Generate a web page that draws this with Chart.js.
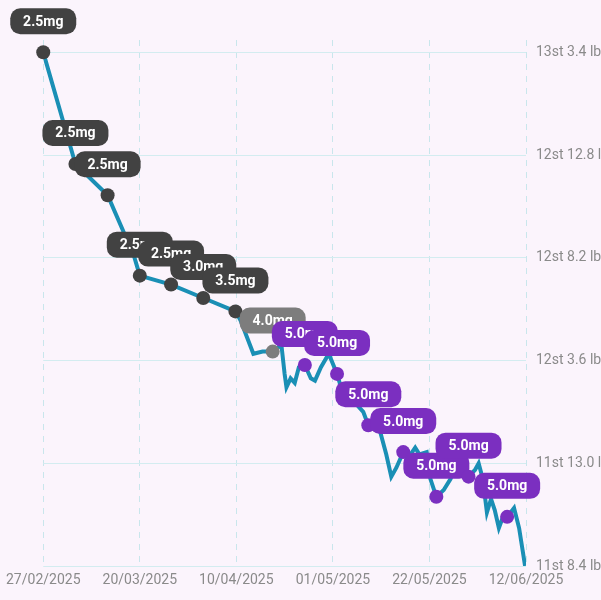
<!DOCTYPE html>
<html>
<head>
<meta charset="utf-8">
<script src="https://cdn.jsdelivr.net/npm/chart.js@4"></script>
<style>
  html, body { margin: 0; padding: 0; background: #fbf4fc; }
  #wrap { width: 601px; height: 600px; }
</style>
</head>
<body>
<div id="wrap"><canvas id="weightChart" width="601" height="600"></canvas></div>
<script>
// days since 27/02/2025, weight in lb
const weightDays = [0, 7, 14, 19.7, 21, 27.8, 34.8, 41.8, 42.9, 45.7, 47.7, 49.9, 51.8, 52.5, 52.9, 53.8, 54.7, 55.6, 56.9, 58.2, 59.1, 60.4, 62.1, 63.9, 65.2, 67.4, 69.6, 70.7, 73.3, 74.6, 75.7, 76.8, 78.3, 79.9, 80.9, 81.8, 83.4, 84.2, 85.5, 87.1, 88.6, 89.5, 90.8, 92.5, 93.9, 94.7, 95.6, 96.5, 97.4, 98.2, 99.1, 100.0, 100.9, 102.4, 103.5, 104.8];
const weightLbs = [185.4, 180.4, 179.0, 176.3, 175.4, 175.0, 174.4, 173.8, 173.4, 171.9, 172.0, 172.0, 172.3, 171.0, 170.4, 170.8, 170.6, 171.3, 171.4, 170.8, 170.7, 171.3, 171.9, 171.0, 170.1, 169.8, 169.3, 168.7, 168.4, 167.4, 166.4, 166.8, 167.5, 167.4, 167.7, 167.4, 167.5, 166.3, 165.5, 165.8, 166.3, 166.9, 166.7, 166.4, 166.7, 167.0, 166.3, 164.8, 165.4, 164.9, 164.1, 164.6, 164.6, 165.0, 164.1, 162.4];

const doseDays = [0, 7, 14, 21, 27.8, 34.8, 41.8, 49.9, 56.9, 63.9, 70.7, 78.3, 85.5, 92.5, 100.9];
const doseLbs = [185.4, 180.4, 179.0, 175.4, 175.0, 174.4, 173.8, 172.0, 171.4, 171.0, 168.7, 167.5, 165.5, 166.4, 164.6];
const doseLabels = ['2.5mg', '2.5mg', '2.5mg', '2.5mg', '2.5mg', '3.0mg', '3.5mg', '4.0mg', '5.0mg', '5.0mg', '5.0mg', '5.0mg', '5.0mg', '5.0mg', '5.0mg'];

const xTicks = [0, 21, 42, 63, 84, 105];
const yTicks = [162.4, 167.0, 171.6, 176.2, 180.8, 185.4];
const startDate = new Date(2025, 1, 27);

function doseColor(label) {
  if (label === '4.0mg') return '#7d7d7d';
  if (label === '5.0mg') return '#7b2fc0';
  return '#424242';
}

function fmtDate(d) {
  const dt = new Date(startDate.getTime() + d * 86400000);
  const dd = String(dt.getDate()).padStart(2, '0');
  const mm = String(dt.getMonth() + 1).padStart(2, '0');
  return `${dd}/${mm}/${dt.getFullYear()}`;
}

function fmtStone(v) {
  const st = Math.floor(v / 14);
  const lb = v - st * 14;
  return `${st}st ${lb.toFixed(1)} lbs`;
}

// dose dots + bubbles, drawn one after another so later ones sit on top
const doseBubbles = {
  id: 'doseBubbles',
  afterDatasetsDraw(chart) {
    const ctx = chart.ctx;
    const xs = chart.scales.x, ys = chart.scales.y;
    ctx.save();
    ctx.font = 'bold 14px Roboto';
    ctx.textAlign = 'center';
    ctx.textBaseline = 'middle';
    doseDays.forEach((d, i) => {
      const px = xs.getPixelForValue(d);
      const py = ys.getPixelForValue(doseLbs[i]);
      const col = doseColor(doseLabels[i]);
      ctx.fillStyle = col;
      ctx.beginPath();
      ctx.arc(px, py, 7, 0, Math.PI * 2);
      ctx.fill();
      const w = 66, h = 26, by = py - 31;
      ctx.beginPath();
      ctx.roundRect(px - w / 2, by - h / 2, w, h, 10);
      ctx.fill();
      ctx.fillStyle = '#ffffff';
      ctx.fillText(doseLabels[i], px, by + 1);
    });
    ctx.restore();
  }
};

new Chart(document.getElementById('weightChart'), {
  type: 'line',
  data: {
    datasets: [{
      data: weightDays.map((d, i) => ({ x: d, y: weightLbs[i] })),
      borderColor: '#1a8fb5',
      borderWidth: 4,
      pointRadius: 0,
      tension: 0,
      fill: false
    }]
  },
  options: {
    responsive: false,
    animation: false,
    layout: { padding: { top: 40, left: 0, right: 0, bottom: 0 } },
    plugins: { legend: { display: false }, tooltip: { enabled: false } },
    scales: {
      x: {
        type: 'linear',
        min: 0,
        max: 105,
        afterBuildTicks: s => { s.ticks = xTicks.map(v => ({ value: v })); },
        afterFit: s => { s.height = 34; },
        ticks: { color: '#8a8a8a', font: { size: 14, family: 'Roboto' }, padding: 6, maxRotation: 0, callback: v => fmtDate(v) },
        grid: { color: '#c9e6ec', drawTicks: false },
        border: { display: false, dash: [6, 6] }
      },
      y: {
        position: 'right',
        min: 162.4,
        max: 185.95,
        afterBuildTicks: s => { s.ticks = yTicks.map(v => ({ value: v })); },
        afterFit: s => { s.width = 75; },
        ticks: { color: '#8a8a8a', font: { size: 14, family: 'Roboto' }, padding: 10, callback: v => fmtStone(v) },
        grid: { color: '#d3ecf0', drawTicks: false },
        border: { display: false }
      }
    }
  },
  plugins: [doseBubbles]
});
</script>
</body>
</html>
